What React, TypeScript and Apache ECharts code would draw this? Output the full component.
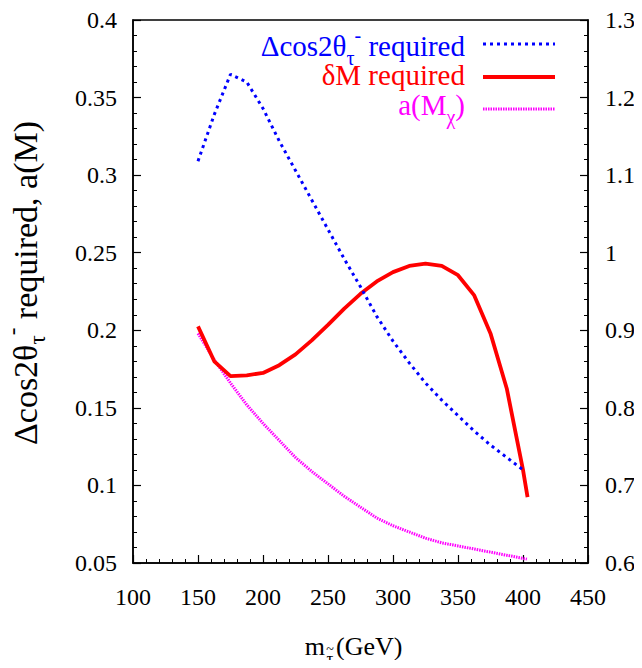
import React, { useEffect, useRef } from "react";
import * as echarts from "echarts";

const FONT = '"Liberation Serif", serif';

const xTickMin = 100;
const xTickMax = 450;
const xTickStep = 50;
const yLeftMin = 0.05;
const yLeftMax = 0.4;
const yLeftStep = 0.05;
const yRightMin = 0.6;
const yRightMax = 1.3;
const yRightStep = 0.1;

const massCos = [150, 162.5, 175, 187.5, 200, 212.5, 225, 237.5, 250, 262.5, 275, 287.5, 300, 312.5, 325, 337.5, 350, 362.5, 375, 387.5, 400];
const dCosRequired = [0.309, 0.339, 0.365, 0.36, 0.343, 0.322, 0.303, 0.284, 0.265, 0.246, 0.228, 0.209, 0.193, 0.179, 0.166, 0.155, 0.145, 0.135, 0.126, 0.118, 0.11];

const massDM = [150, 162.5, 175, 187.5, 200, 212.5, 225, 237.5, 250, 262.5, 275, 287.5, 300, 312.5, 325, 337.5, 350, 362.5, 375, 387.5, 400, 403.5];
const dMRequired = [0.905, 0.86, 0.841, 0.842, 0.845, 0.855, 0.869, 0.887, 0.907, 0.928, 0.947, 0.963, 0.975, 0.983, 0.986, 0.983, 0.971, 0.945, 0.896, 0.825, 0.72, 0.685];

const massA = [150, 162.5, 175, 187.5, 200, 212.5, 225, 237.5, 250, 262.5, 275, 287.5, 300, 312.5, 325, 337.5, 350, 362.5, 375, 387.5, 400, 403];
const aM = [0.198, 0.181, 0.166, 0.152, 0.14, 0.129, 0.118, 0.109, 0.101, 0.093, 0.086, 0.079, 0.074, 0.07, 0.066, 0.063, 0.061, 0.059, 0.057, 0.055, 0.053, 0.0525];

const pairs = (xs: number[], ys: number[]) => xs.map((x, i) => [x, ys[i]]);

const BLUE = "#0000ff";
const RED = "#ff0000";
const MAGENTA = "#ff00ff";

// rich styles for main text with lowered subscript and raised superscript
const richFor = (size: number, color: string, dFactor: number) => {
  const d = Math.round(size * dFactor);
  const s = Math.round(size * 0.68);
  return {
    main: { fontFamily: FONT, fontSize: size, color, lineHeight: size + 2 * d, verticalAlign: "middle" },
    sub: { fontFamily: FONT, fontSize: s, color, lineHeight: Math.round(2 * d + 10), verticalAlign: "bottom" },
    sup: { fontFamily: FONT, fontSize: s, color, lineHeight: Math.round(size * 0.85 + 2 * d), verticalAlign: "top" },
  };
};

export default function App() {
  const ref = useRef<HTMLDivElement>(null);

  useEffect(() => {
    if (!ref.current) return;
    const chart = echarts.init(ref.current, undefined, { renderer: "svg" });

    const axisLine = { show: true, lineStyle: { color: "#000", width: 1.5 } };
    const label = { color: "#000", fontFamily: FONT, fontSize: 24 };
    const tick = { show: true, inside: true, length: 8, lineStyle: { color: "#000", width: 1.2 } };
    const minor = { show: true, splitNumber: 5, length: 4, lineStyle: { color: "#000", width: 1 } };

    chart.setOption({
      animation: false,
      backgroundColor: "#fff",
      textStyle: { fontFamily: FONT },
      grid: {
        left: 133,
        right: 54,
        top: 20,
        bottom: 105,
        show: true,
        borderColor: "#000",
        borderWidth: 1.5,
        containLabel: false,
      },
      xAxis: {
        type: "value",
        min: xTickMin,
        max: xTickMax,
        interval: xTickStep,
        axisLine,
        axisTick: tick,
        minorTick: minor,
        splitLine: { show: false },
        axisLabel: { ...label, margin: 22 },
      },
      yAxis: [
        {
          type: "value",
          min: yLeftMin,
          max: yLeftMax,
          interval: yLeftStep,
          axisLine,
          axisTick: tick,
          minorTick: minor,
          splitLine: { show: false },
          axisLabel: { ...label, margin: 16 },
        },
        {
          type: "value",
          position: "right",
          min: yRightMin,
          max: yRightMax,
          interval: yRightStep,
          axisLine,
          axisTick: tick,
          minorTick: minor,
          splitLine: { show: false },
          axisLabel: { ...label, margin: 17 },
        },
      ],
      series: [
        {
          name: "a(Mχ)",
          type: "line",
          yAxisIndex: 0,
          data: pairs(massA, aM),
          showSymbol: false,
          z: 2,
          lineStyle: { color: MAGENTA, width: 3, type: [1.5, 1], cap: "butt" },
        },
        {
          name: "δM required",
          type: "line",
          yAxisIndex: 1,
          data: pairs(massDM, dMRequired),
          showSymbol: false,
          z: 3,
          lineStyle: { color: RED, width: 3.8, type: "solid" },
        },
        {
          name: "Δcos2θτ- required",
          type: "line",
          yAxisIndex: 0,
          data: pairs(massCos, dCosRequired),
          showSymbol: false,
          z: 4,
          lineStyle: { color: BLUE, width: 3, type: [3, 4], cap: "butt" },
        },
      ],
      graphic: [
        // legend
        {
          type: "text",
          x: 465,
          y: 46,
          style: {
            text: "{main|Δcos2θ}{sub|τ}{sup|-}{main| required}",
            rich: richFor(29, BLUE, 0.25),
            align: "right",
            verticalAlign: "middle",
            fill: BLUE,
          },
        },
        {
          type: "line",
          shape: { x1: 483, y1: 44, x2: 555, y2: 44 },
          style: { stroke: BLUE, lineWidth: 3, lineDash: [3, 4] },
        },
        {
          type: "text",
          x: 465,
          y: 75,
          style: {
            text: "δM required",
            font: `29px ${FONT}`,
            align: "right",
            verticalAlign: "middle",
            fill: RED,
          },
        },
        {
          type: "line",
          shape: { x1: 483, y1: 77, x2: 555, y2: 77 },
          style: { stroke: RED, lineWidth: 3.8 },
        },
        {
          type: "text",
          x: 465,
          y: 105,
          style: {
            text: "{main|a(M}{sub|χ}{main|)}",
            rich: richFor(29, MAGENTA, 0.25),
            align: "right",
            verticalAlign: "middle",
            fill: MAGENTA,
          },
        },
        {
          type: "line",
          shape: { x1: 483, y1: 109, x2: 555, y2: 109 },
          style: { stroke: MAGENTA, lineWidth: 3, lineDash: [1.5, 1] },
        },
        // left axis title
        {
          type: "text",
          x: 25,
          y: 283,
          rotation: Math.PI / 2,
          style: {
            text: "{main|Δcos2θ}{sub|τ}{sup|-}{main| required, a(M)}",
            rich: richFor(34, "#000", 0.2),
            align: "center",
            verticalAlign: "middle",
            fill: "#000",
          },
        },
        // x axis title
        {
          type: "text",
          x: 325,
          y: 646,
          style: { text: "m", font: `26px ${FONT}`, fill: "#000", align: "right", verticalAlign: "middle" },
        },
        {
          type: "text",
          x: 330,
          y: 649,
          style: { text: "~", font: `14px ${FONT}`, fill: "#000", align: "center", verticalAlign: "middle" },
        },
        {
          type: "text",
          x: 330,
          y: 658,
          style: { text: "τ", font: `17px ${FONT}`, fill: "#000", align: "center", verticalAlign: "middle" },
        },
        {
          type: "text",
          x: 336,
          y: 646,
          style: { text: "(GeV)", font: `26px ${FONT}`, fill: "#000", align: "left", verticalAlign: "middle" },
        },
      ],
    });

    return () => chart.dispose();
  }, []);

  return <div ref={ref} style={{ width: 642, height: 668, margin: -8 }} />;
}
